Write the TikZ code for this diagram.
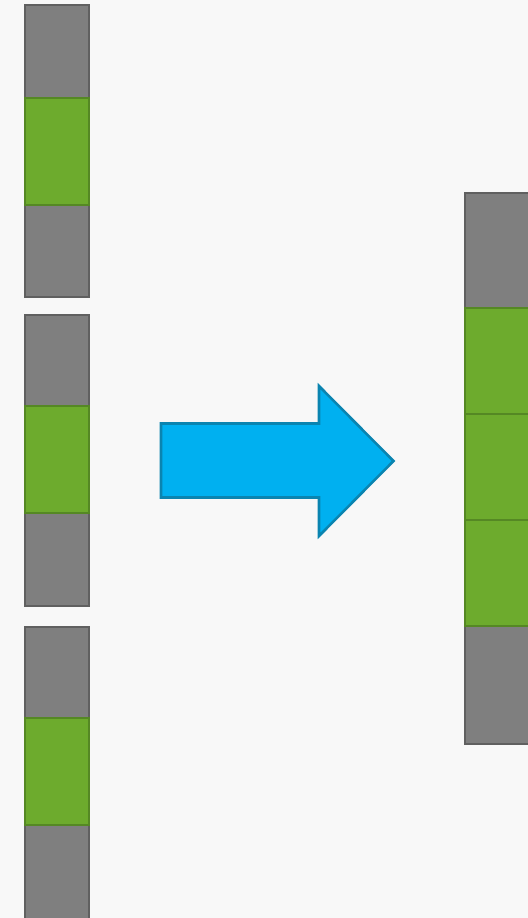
\documentclass[tikz,border=0pt]{standalone}
\definecolor{bg}{HTML}{F8F8F8}
\definecolor{grayfill}{HTML}{7F7F7F}
\definecolor{graydraw}{HTML}{606060}
\definecolor{greenfill}{HTML}{6DAB2D}
\definecolor{greendraw}{HTML}{558824}
\definecolor{bluefill}{HTML}{00B0F0}
\definecolor{bluedraw}{HTML}{0A84B0}
\tikzset{
  graycell/.style={fill=grayfill,draw=graydraw,line width=1.9pt},
  greencell/.style={fill=greenfill,draw=greendraw,line width=1.9pt},
  bigarrow/.style={fill=bluefill,draw=bluedraw,line width=1.9pt,line join=miter}
}
\begin{document}
\begin{tikzpicture}[x=0.75pt,y=-0.75pt]
\useasboundingbox (0,0) rectangle (528,918);
\fill[bg] (0,0) rectangle (528,918);
\clip (0,0) rectangle (528,918);
% left column, block 1
\draw[graycell] (25,5) rectangle (89,98);
\draw[graycell] (25,205) rectangle (89,297);
\draw[greencell] (25,98) rectangle (89,205);
% block 2
\draw[graycell] (25,315) rectangle (89,406);
\draw[graycell] (25,513) rectangle (89,606);
\draw[greencell] (25,406) rectangle (89,513);
% block 3
\draw[graycell] (25,627) rectangle (89,718);
\draw[graycell] (25,825) rectangle (89,922);
\draw[greencell] (25,718) rectangle (89,825);
% arrow
\draw[bigarrow] (161,423.5) -- (319,423.5) -- (319,386) -- (393.5,461) -- (319,536) -- (319,497.5) -- (161,497.5) -- cycle;
% right column
\draw[graycell] (465,193) rectangle (532,308);
\draw[graycell] (465,626) rectangle (532,744);
\draw[greencell] (465,308) rectangle (532,414);
\draw[greencell] (465,414) rectangle (532,520);
\draw[greencell] (465,520) rectangle (532,626);
\end{tikzpicture}
\end{document}
